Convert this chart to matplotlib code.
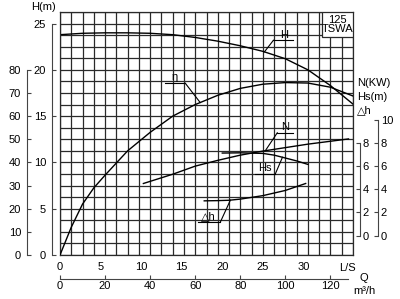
import numpy as np
import matplotlib
matplotlib.use("Agg")
import matplotlib.pyplot as plt
from matplotlib.patches import Rectangle

plt.rcParams['font.family'] = ['Liberation Sans', 'DejaVu Sans']
plt.rcParams['font.size'] = 8

# ---- data (Q in m3/h) ----
q_H = [0, 10, 20, 30, 40, 50, 60, 70, 80, 90, 100, 110, 120, 130]
H = [23.8, 23.95, 24.0, 24.0, 23.95, 23.8, 23.5, 23.1, 22.6, 22.0, 21.2, 20.0, 18.3, 16.3]

q_eta = [0, 5, 10, 15, 20, 30, 40, 50, 60, 70, 80, 90, 100, 110, 120, 130]
eta = [0, 12, 22, 29, 34.5, 45, 53, 60, 65, 69, 72, 73.8, 74.5, 74.3, 72.5, 68.7]

q_N = [37, 50, 60, 70, 80, 90, 100, 110, 120, 128]
N = [4.5, 5.3, 6.0, 6.5, 6.95, 7.3, 7.6, 7.9, 8.15, 8.35]

q_Hs = [72, 80, 90, 95, 100, 105, 110]
Hs = [7.13, 7.15, 7.1, 6.95, 6.7, 6.45, 6.15]

q_dh = [64, 70, 75, 80, 90, 100, 109]
dh = [3.0, 3.02, 3.05, 3.15, 3.45, 3.9, 4.5]

ls_ticks = [0, 5, 10, 15, 20, 25, 30]
m3h_ticks = [0, 20, 40, 60, 80, 100, 120]
H_ticks = [0, 5, 10, 15, 20, 25]
eta_ticks = [0, 10, 20, 30, 40, 50, 60, 70, 80]
r_in_ticks = [0, 2, 4, 6, 8]
r_out_ticks = [0, 2, 4, 6, 8, 10]

# ---- layout ----
W, Hpx = 400, 299
fig = plt.figure(figsize=(W / 100, Hpx / 100), dpi=100)
x0, x1, y0, y1 = 60, 353, 12, 255
ax = fig.add_axes([x0 / W, 1 - y1 / Hpx, (x1 - x0) / W, (y1 - y0) / Hpx])
QMAX, HMAX = 130, 26.25
ax.set_xlim(0, QMAX)
ax.set_ylim(0, HMAX)
gridc = '#2a2a2a'
axc = '#444444'
ax.set_xticks(np.arange(0, QMAX + 0.1, 5))
ax.set_yticks(np.arange(0, HMAX + 0.01, 1.25))
ax.grid(True, color=gridc, lw=0.9)
ax.tick_params(length=0, labelbottom=False, labelleft=False)
for s in ax.spines.values():
    s.set_color(gridc)
    s.set_linewidth(0.9)

lc = 'black'
ax.plot(q_H, H, color=lc, lw=1.0)


def side_axis(twin, side, offset, lim, ticks, bounds, direction='in', pad=4):
    a = ax.twinx() if twin == 'x' else ax.twiny()
    if twin == 'x':
        a.set_ylim(*lim)
        a.yaxis.set_ticks_position(side)
        a.set_yticks(ticks)
        a.tick_params(axis='y', direction=direction, length=3, pad=pad, color=axc)
    else:
        a.set_xlim(*lim)
        a.xaxis.set_ticks_position(side)
        a.set_xticks(ticks)
        a.tick_params(axis='x', direction=direction, length=3, pad=pad, color=axc)
    for s in ['top', 'bottom', 'left', 'right']:
        a.spines[s].set_visible(s == side)
    a.spines[side].set_position(('outward', offset))
    a.spines[side].set_color(axc)
    if bounds is not None:
        a.spines[side].set_bounds(*bounds)
    return a


# left H axis
ax_h = side_axis('x', 'left', 6, (0, HMAX), H_ticks, (0, 25))
# eta axis
ax_e = side_axis('x', 'left', 24, (0, HMAX * 4), eta_ticks, (0, 80))
ax_e.plot(q_eta, eta, color=lc, lw=1.0)

# right axes (N, Hs, dh)
h0, sc = 2.1, 1.25
rlim = ((0 - h0) / sc, (HMAX - h0) / sc)
ax_r = side_axis('x', 'right', 5, rlim, r_in_ticks, (0, 8), pad=2)
ax_r2 = side_axis('x', 'right', 18, rlim, r_out_ticks, (0, 10), pad=2)
ax_r.plot(q_N, N, color=lc, lw=1.0)
ax_r.plot(q_Hs, Hs, color=lc, lw=1.0)
ax_r.plot(q_dh, dh, color=lc, lw=1.0)

# L/S labels
ax_ls = side_axis('y', 'bottom', 0, (0, QMAX), [v * 3.6 for v in ls_ticks], None, pad=5)
ax_ls.set_xticklabels([str(v) for v in ls_ticks])
ax_ls.tick_params(axis='x', length=0)
ax_ls.spines['bottom'].set_visible(False)

# m3/h axis
ax_m = side_axis('y', 'bottom', 17, (0, QMAX), m3h_ticks, (0, 128), pad=2)


# ---- curve labels with leaders ----
def leader(a, text, qc, vc, q_a, q_b, v_u, q_hit, tx, ty):
    v_hit = np.interp(q_hit, qc, vc)
    q_join = q_a if abs(q_a - q_hit) < abs(q_b - q_hit) else q_b
    a.plot([q_a, q_b], [v_u, v_u], color=lc, lw=0.8)
    a.plot([q_join, q_hit], [v_u, v_hit], color=lc, lw=0.8)
    a.text(tx, ty, text, ha='center', va='bottom', fontsize=8)


leader(ax, 'H', q_H, H, 94.7, 103.6, 23.2, 90.7, 99.5, 23.25)
leader(ax_e, 'η', q_eta, eta, 46.7, 55.6, 74.2, 62.2, 51, 74.6)
leader(ax_r, 'N', q_N, N, 96.4, 103.6, 8.88, 91.1, 100, 8.93)
leader(ax_r, 'Hs', q_Hs, Hs, 86.7, 95.6, 5.36, 98.7, 91, 5.4)
leader(ax_r, '△h', q_dh, dh, 61.3, 71.1, 1.15, 75.6, 66, 1.2)

# model box
ax.add_patch(Rectangle((116.4, 23.6), QMAX - 116.4, HMAX - 23.6, facecolor='white',
                       edgecolor=gridc, lw=0.9, zorder=3))
ax.text(123.3, 24.9, '125\nTSWA', ha='center', va='center', fontsize=8,
        linespacing=0.9, zorder=4)


def ft(x, y, s, **kw):
    fig.text(x / W, 1 - y / Hpx, s, fontsize=8, **kw)


ft(43, 7, 'H(m)', ha='center', va='center')
ft(357, 83, 'N(KW)', ha='left', va='center')
ft(357, 97, 'Hs(m)', ha='left', va='center')
ft(357, 110, '△h', ha='left', va='center')
ft(347, 268, 'L/S', ha='center', va='center')
ft(364, 278, 'Q', ha='center', va='center')
ft(364, 291, 'm³/h', ha='center', va='center')

fig.savefig('out.png', dpi=100)
